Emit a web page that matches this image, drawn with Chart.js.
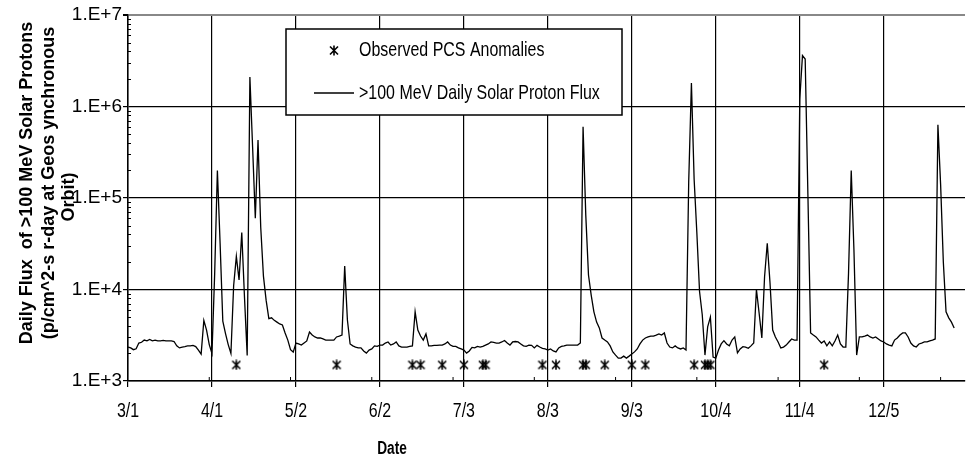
<!DOCTYPE html>
<html>
<head>
<meta charset="utf-8">
<script src="https://cdn.jsdelivr.net/npm/chart.js@4.4.0/dist/chart.umd.min.js"></script>
<style>
  body { margin: 0; background: #fff; }
  canvas { display: block; }
</style>
</head>
<body>
<canvas id="chart" width="971" height="459"></canvas>
<script>
// x axis: days counted from 3/1, labelled every 31 days
var tickDays = [0, 31, 62, 93, 124, 155, 186, 217, 248, 279];
var tickLabels = ['3/1', '4/1', '5/2', '6/2', '7/3', '8/3', '9/3', '10/4', '11/4', '12/5'];
var decades = [1e3, 1e4, 1e5, 1e6, 1e7];

// daily >100 MeV flux, one value per day from 3/1
var flux = [
  2350, 2300, 2200, 2250, 2600, 2650, 2800, 2750, 2850, 2750,
  2800, 2750, 2750, 2780, 2740, 2740, 2740, 2700, 2420, 2300,
  2350, 2380, 2420, 2420, 2450, 2380, 2180, 1970, 4600, 3600,
  2500, 2000, 15000, 200000, 32000, 4500, 3300, 2500, 2000, 11000,
  23000, 12700, 42000, 8300, 1900, 2100000, 360000, 60000, 430000, 48000,
  14000, 7600, 4800, 4900, 4600, 4400, 4200, 4100, 3350, 2800,
  2200, 2070, 2600, 2550, 2470, 2600, 2740, 3430, 3180, 3030,
  2950, 2950, 2880, 2800, 2800, 2800, 2800, 3030, 3100, 3180,
  18000, 4640, 2540, 2420, 2350, 2300, 2300, 2130, 2020, 2180,
  2240, 2420, 2390, 2470, 2470, 2600, 2670, 2470, 2540, 2670,
  2420, 2350, 2350, 2350, 2390, 2420, 5700, 3610, 3100, 2800,
  3270, 2420, 2420, 2450, 2450, 2470, 2470, 2540, 2670, 2470,
  2390, 2390, 2300, 2240, 2180, 2020, 2130, 2330, 2300, 2390,
  2350, 2390, 2470, 2540, 2670, 2640, 2600, 2600, 2670, 2770,
  2600, 2470, 2670, 2700, 2670, 2540, 2420, 2390, 2470, 2450,
  2300, 2450, 2350, 2270, 2240, 2180, 2240, 2130, 2080, 2300,
  2390, 2420, 2470, 2470, 2470, 2470, 2470, 2600, 600000, 65000,
  14400, 8700, 5700, 4400, 3800, 2950, 2800, 2670, 2420, 2080,
  1920, 1780, 1780, 1870, 1780, 1870, 1970, 2080, 2240, 2540,
  2800, 2950, 3030, 3100, 3100, 3180, 3270, 3180, 3350, 2600,
  2350, 2300, 2420, 2300, 2240, 2300, 2180, 150000, 1800000, 160000,
  42000, 9500, 5300, 1920, 3900, 5000, 1830, 1780, 2180, 2540,
  2760, 2540, 2420, 2800, 3030, 2030, 2240, 2370, 2350, 2280,
  2420, 2600, 10000, 5500, 2950, 13700, 32000, 12000, 3610, 3030,
  2670, 2300, 2350, 2470, 2670, 2880, 2800, 2800, 1200000, 3600000,
  3300000, 110000, 3350, 3180, 3030, 2800, 2600, 2740, 2420, 2670,
  2420, 2740, 3180, 2540, 2350, 2350, 15000, 200000, 27000, 1920,
  3030, 3030, 3100, 3180, 3030, 2950, 3030, 2880, 2740, 2670,
  2540, 2470, 2420, 2800, 2950, 3180, 3350, 3350, 3030, 2600,
  2420, 2350, 2540, 2600, 2670, 2670, 2740, 2800, 2880, 630000,
  140000, 20000, 5700, 4900, 4400, 3800
];

// days (from 3/1) with an observed PCS anomaly, plotted at a fixed level
var anomalyDays = [40, 77, 105, 108, 116, 124, 131, 132, 153, 158,
  168, 169, 176, 186, 191, 209, 213, 214, 215, 257];
var anomalyLevel = 1500;

var sans = "'Liberation Sans', Arial, sans-serif";

// no narrow face installed, so squeeze the text horizontally instead
function narrowText(ctx, text, x, y, align) {
  ctx.save();
  ctx.translate(x, y);
  ctx.scale(0.76, 1);
  ctx.textAlign = align;
  ctx.fillText(text, 0, 0);
  ctx.restore();
}

// excel style star marker: an x crossed by a vertical stroke
function makeStar() {
  var c = document.createElement('canvas');
  c.width = 10; c.height = 11;
  var g = c.getContext('2d');
  g.strokeStyle = '#000';
  g.lineWidth = 1.6;
  g.beginPath();
  g.moveTo(1, 1.5); g.lineTo(9, 9.5);
  g.moveTo(9, 1.5); g.lineTo(1, 9.5);
  g.moveTo(5, 0.5); g.lineTo(5, 10.5);
  g.stroke();
  return c;
}
var star = makeStar();

// small inside ticks: every 30 days on x, 2..9 per decade on y
var minorTicks = {
  id: 'minorTicks',
  afterDraw: function(chart) {
    var ctx = chart.ctx, x = chart.scales.x, y = chart.scales.y;
    ctx.save();
    ctx.strokeStyle = '#000';
    ctx.lineWidth = 1;
    ctx.beginPath();
    for (var d = 30; d <= 300; d += 30) {
      var px = x.getPixelForValue(d);
      ctx.moveTo(px, y.bottom);
      ctx.lineTo(px, y.bottom - 4);
    }
    for (var k = 0; k < decades.length - 1; k++) {
      for (var m = 2; m <= 9; m++) {
        var py = Math.round(y.getPixelForValue(decades[k] * m)) + 0.5;
        ctx.moveTo(x.left, py);
        ctx.lineTo(x.left + 3, py);
      }
    }
    ctx.stroke();
    ctx.restore();
  }
};

// x tick labels, axis titles
var axisText = {
  id: 'axisText',
  afterDraw: function(chart) {
    var ctx = chart.ctx, x = chart.scales.x, y = chart.scales.y;
    ctx.save();
    ctx.fillStyle = '#000';
    ctx.textBaseline = 'middle';
    ctx.font = '21px ' + sans;
    tickDays.forEach(function(d, i) {
      narrowText(ctx, tickLabels[i], x.getPixelForValue(d), y.bottom + 30, 'center');
    });
    ctx.font = 'bold 18px ' + sans;
    narrowText(ctx, 'Date', 392, 449, 'center');

    ctx.textAlign = 'center';
    ctx.textBaseline = 'alphabetic';
    ctx.font = 'bold 18px ' + sans;
    var lines = [
      ['Daily Flux  of >100 MeV Solar Protons', 32, 183],
      ['(p/cm^2-s r-day at Geos ynchronous', 54, 183],
      ['Orbit)', 74, 197]
    ];
    lines.forEach(function(l) {
      ctx.save();
      ctx.translate(l[1], l[2]);
      ctx.rotate(-Math.PI / 2);
      ctx.fillText(l[0], 0, 0);
      ctx.restore();
    });
    ctx.restore();
  }
};

var boxLegend = {
  id: 'boxLegend',
  afterDraw: function(chart) {
    var ctx = chart.ctx, ds = chart.data.datasets;
    ctx.save();
    ctx.fillStyle = '#fff';
    ctx.fillRect(286, 29, 336, 86);
    ctx.strokeStyle = '#000';
    ctx.lineWidth = 1.5;
    ctx.strokeRect(286, 29, 336, 86);
    ctx.drawImage(star, 329, 45);
    ctx.beginPath();
    ctx.lineWidth = 1.3;
    ctx.moveTo(314, 93);
    ctx.lineTo(354, 93);
    ctx.stroke();
    ctx.fillStyle = '#000';
    ctx.font = '21px ' + sans;
    ctx.textBaseline = 'middle';
    narrowText(ctx, ds[0].label, 359, 50, 'left');
    narrowText(ctx, ds[1].label, 359, 93, 'left');
    ctx.restore();
  }
};

new Chart(document.getElementById('chart'), {
  type: 'line',
  data: {
    datasets: [{
      label: 'Observed PCS Anomalies',
      data: anomalyDays.map(function(d) { return {x: d, y: anomalyLevel}; }),
      showLine: false,
      pointStyle: star,
      pointRadius: 5,
      borderColor: '#000'
    }, {
      label: '>100 MeV Daily Solar Proton Flux',
      data: flux.map(function(v, i) { return {x: i, y: v}; }),
      borderColor: '#000',
      borderWidth: 1.3,
      pointRadius: 0,
      tension: 0,
      fill: false
    }]
  },
  options: {
    responsive: false,
    animation: false,
    devicePixelRatio: 1,
    layout: { padding: { top: 15, right: 4, left: 0, bottom: 0 } },
    plugins: { legend: { display: false }, tooltip: { enabled: false } },
    scales: {
      x: {
        type: 'linear', min: 0, max: 309,
        afterBuildTicks: function(s) { s.ticks = tickDays.map(function(v) { return {value: v}; }); },
        afterFit: function(s) { s.height = 78; },
        ticks: { display: false },
        grid: { color: '#000', lineWidth: 1.2, tickLength: 6, tickColor: '#000' },
        border: { color: '#000', width: 1.5 }
      },
      y: {
        type: 'logarithmic', min: 1e3, max: 1e7,
        afterBuildTicks: function(s) { s.ticks = decades.map(function(v) { return {value: v}; }); },
        afterFit: function(s) { s.width = 128; },
        ticks: {
          padding: 1, color: '#000',
          font: { family: sans, size: 19 },
          callback: function(v) { return '1.E+' + Math.round(Math.log10(v)); }
        },
        grid: {
          color: function(c) { return c.tick && c.tick.value === 1e7 ? '#888' : '#000'; },
          lineWidth: function(c) { return c.tick && c.tick.value === 1e7 ? 2 : 1.2; },
          tickLength: 5, tickColor: '#000'
        },
        border: { color: '#000', width: 1.5 }
      }
    }
  },
  plugins: [minorTicks, axisText, boxLegend]
});
</script>
</body>
</html>
